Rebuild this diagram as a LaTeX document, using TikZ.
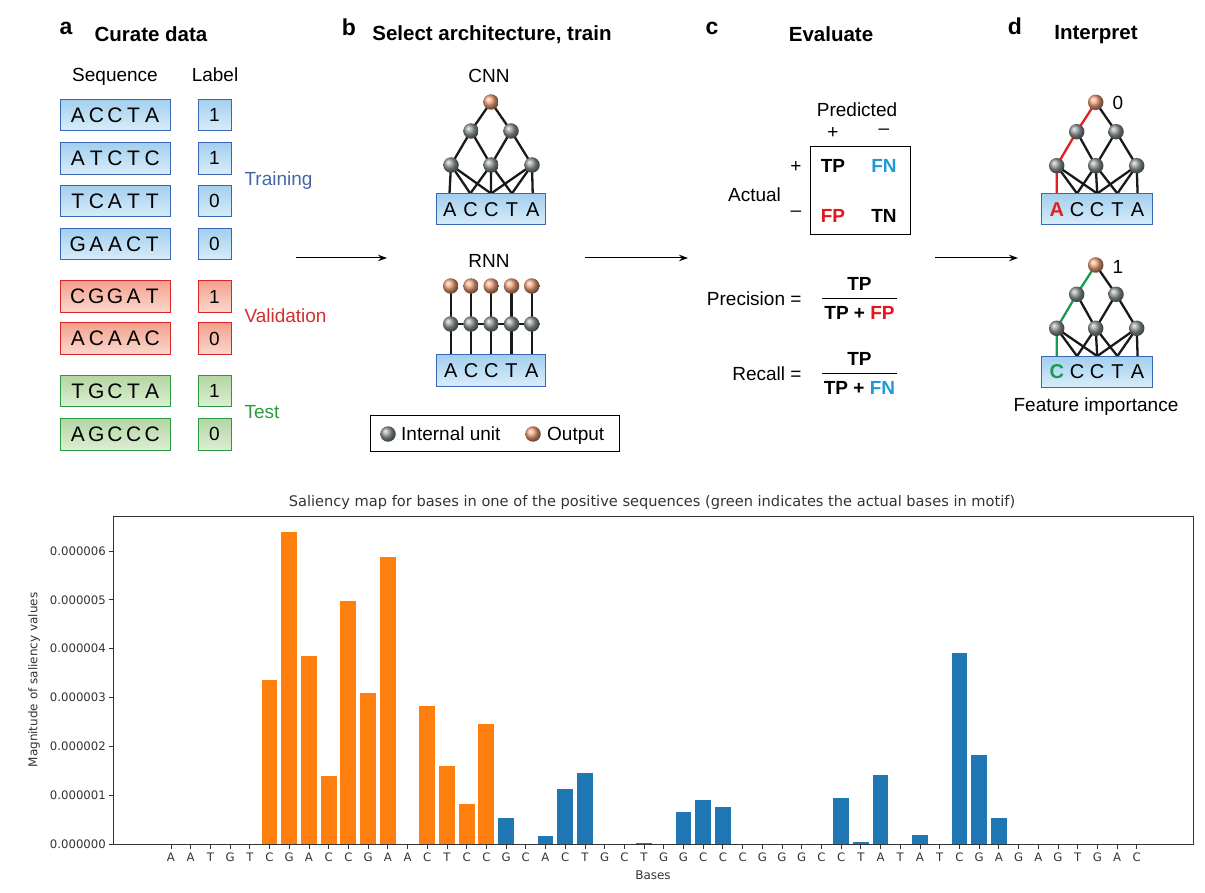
\documentclass[tikz,border=0pt]{standalone}
\usepackage{fontspec}
\setmainfont{Liberation Sans}
\newfontfamily\dv{DejaVu Sans}
\usetikzlibrary{arrows.meta,backgrounds}
\definecolor{bluetop}{HTML}{A3CFEE}
\definecolor{bluebot}{HTML}{D8EDFA}
\definecolor{bluedraw}{HTML}{3B66B5}
\definecolor{redtop}{HTML}{F3A18E}
\definecolor{redbot}{HTML}{FBD8CC}
\definecolor{reddraw}{HTML}{D9252A}
\definecolor{greentop}{HTML}{B2D6A2}
\definecolor{greenbot}{HTML}{DDEED3}
\definecolor{greendraw}{HTML}{2C9A43}
\definecolor{traincol}{HTML}{4666A8}
\definecolor{valcol}{HTML}{D32F2F}
\definecolor{testcol}{HTML}{2E9B3E}
\definecolor{fncol}{HTML}{1E9BD7}
\definecolor{fpcol}{HTML}{E8141C}
\definecolor{unitgray}{HTML}{8E9696}
\definecolor{outorange}{HTML}{EEA078}
\definecolor{pathred}{HTML}{E02020}
\definecolor{pathgreen}{HTML}{1A9A50}
\definecolor{mplorange}{HTML}{FF7F0E}
\definecolor{mplblue}{HTML}{1F77B4}
\definecolor{axgray}{HTML}{333333}
\newcommand\fiveletters[6]{\makebox[#1]{#2}\makebox[#1]{#3}\makebox[#1]{#4}\makebox[#1]{#5}\makebox[#1]{#6}}
\newcommand\seqfive[5]{\fiveletters{18.6pt}{#1}{#2}{#3}{#4}{#5}}
\tikzset{
  body/.style={font=\fontsize{19}{21}\selectfont},
  head/.style={font=\fontsize{20.5}{22}\selectfont\bfseries, anchor=base},
  panel/.style={font=\fontsize{23}{24}\selectfont\bfseries, anchor=base},
  unit/.style={circle, minimum size=15.5pt, inner sep=0pt, shading=ball, ball color=unitgray},
  outunit/.style={circle, minimum size=15.5pt, inner sep=0pt, shading=ball, ball color=outorange},
  seqbox/.style={draw, minimum width=110pt, minimum height=31.5pt, inner sep=0pt, line width=0.9pt, font=\fontsize{21}{21}\selectfont},
  lblbox/.style={draw, minimum width=33pt, minimum height=31.5pt, inner sep=0pt, line width=0.9pt, font=\fontsize{19}{19}\selectfont},
  bluefill/.style={draw=bluedraw, top color=bluetop, bottom color=bluebot},
  redfill/.style={draw=reddraw, top color=redtop, bottom color=redbot},
  greenfill/.style={draw=greendraw, top color=greentop, bottom color=greenbot},
  netbox/.style={seqbox, bluefill, font=\fontsize{20}{20}\selectfont},
  edge/.style={line width=2.3pt, black!90},
  flow/.style={line width=1pt, -{Stealth[length=9pt,width=6.5pt]}},
  tick/.style={line width=0.8pt, axgray},
  ticklbl/.style={font=\dv\fontsize{11.7}{12}\selectfont, text=axgray, inner sep=0pt},
}
\begin{document}
\begin{tikzpicture}[x=1pt,y=-1pt]
\useasboundingbox (0,0) rectangle (1205,893);

% ---------- panel a ----------
\node[panel] (pa) at (66,35) {a};
\node[head] (ha) at (151,42) {Curate data};
\node[body, anchor=base] (hseq) at (115,82) {Sequence};
\node[body, anchor=base] (hlab) at (215,82) {Label};
\foreach \y/\s/\l/\f [count=\k] in {
  115/{{A}{C}{C}{T}{A}}/1/bluefill,
  158.3/{{A}{T}{C}{T}{C}}/1/bluefill,
  201/{{T}{C}{A}{T}{T}}/0/bluefill,
  244.2/{{G}{A}{A}{C}{T}}/0/bluefill,
  296.5/{{C}{G}{G}{A}{T}}/1/redfill,
  338.5/{{A}{C}{A}{A}{C}}/0/redfill,
  391/{{T}{G}{C}{T}{A}}/1/greenfill,
  434.2/{{A}{G}{C}{C}{C}}/0/greenfill}{
  \node[seqbox, \f] (seq\k) at (115,\y) {\expandafter\seqfive\s};
  \node[lblbox, \f] (lab\k) at (214.5,\y) {\l};
}
\node[body, anchor=west, text=traincol] (ltrain) at (241,181) {Training};
\node[body, anchor=west, text=valcol] (lval) at (241,315.5) {Validation};
\node[body, anchor=west, text=testcol] (ltest) at (241,412) {Test};

% ---------- panel b ----------
\node[panel] (pb) at (349,36) {b};
\node[head] (hb) at (492,41) {Select architecture, train};
\node[body] (lcnn) at (489,76) {CNN};
\node[outunit] (bo) at (491,102) {};
\node[unit] (b21) at (471,131) {};
\node[unit] (b22) at (511,131) {};
\node[unit] (b31) at (451,165) {};
\node[unit] (b32) at (491,165) {};
\node[unit] (b33) at (532,165) {};
\node[netbox, minimum width=109pt] (bbox) at (491.3,209.2) {\fiveletters{20.8pt}ACCTA};
\foreach \i/\x in {1/449.5,2/470.3,3/491.1,4/511.9,5/532.7} \coordinate (bi\i) at (\x,193.5);

\node[body] (lrnn) at (489,261) {RNN};
\foreach \i/\x in {1/450.7,2/471,3/491.2,4/511.5,5/531.7}{
  \node[outunit] (ro\i) at (\x,286) {};
  \node[unit] (rh\i) at (\x,324) {};
  \coordinate (ri\i) at (\x,354.5);
}
\node[netbox, minimum width=109pt] (rbox) at (491.3,370.3) {\fiveletters{20.3pt}ACCTA};

\node[draw, line width=0.9pt, minimum width=249pt, minimum height=36.5pt, inner sep=0pt] (legend) at (494.5,433.3) {};
\node[unit] (lgu) at (388,434) {};
\node[body, anchor=base west, inner sep=0pt] (lgut) at (401,440.5) {Internal unit};
\node[outunit] (lgo) at (533,434) {};
\node[body, anchor=base west, inner sep=0pt] (lgot) at (547,440.5) {Output};

% ---------- panel c ----------
\node[panel] (pc) at (712,35) {c};
\node[head] (hc) at (831,42) {Evaluate};
\node[body] (pred) at (857,110) {Predicted};
\node[body] (pp) at (833,133) {+};
\node[body] (pm) at (884,132) {\textendash};
\node[draw, line width=0.9pt, minimum width=99.3pt, minimum height=88.3pt, inner sep=0pt] (cm) at (860.3,190.8) {};
\node[body, font=\fontsize{19}{21}\selectfont\bfseries] (tp) at (833,166) {TP};
\node[body, font=\fontsize{19}{21}\selectfont\bfseries, text=fncol] (fn) at (884,166) {FN};
\node[body, font=\fontsize{19}{21}\selectfont\bfseries, text=fpcol] (fp) at (833,215.5) {FP};
\node[body, font=\fontsize{19}{21}\selectfont\bfseries] (tn) at (884,215.5) {TN};
\node[body] (ap) at (796,167) {+};
\node[body] (am) at (796,214) {\textendash};
\node[body] (actual) at (754.5,195) {Actual};

\node[body, anchor=east] (prec) at (805,298.5) {Precision =};
\node[body, font=\fontsize{19}{21}\selectfont\bfseries] (pnum) at (859.5,284) {TP};
\coordinate (pl) at (822,298.5); \coordinate (pr) at (897,298.5);
\draw[line width=0.9pt] (pl) -- (pr);
\node[body, font=\fontsize{19}{21}\selectfont\bfseries] (pden) at (859.5,313) {TP + \textcolor{fpcol}{FP}};

\node[body, anchor=east] (rec) at (805,373.5) {Recall =};
\node[body, font=\fontsize{19}{21}\selectfont\bfseries] (rnum) at (859.5,359) {TP};
\coordinate (rl) at (822,373.5); \coordinate (rr) at (897,373.5);
\draw[line width=0.9pt] (rl) -- (rr);
\node[body, font=\fontsize{19}{21}\selectfont\bfseries] (rden) at (859.5,388) {TP + \textcolor{fncol}{FN}};

% ---------- panel d ----------
\node[panel] (pd) at (1015,35) {d};
\node[head] (hd) at (1096,40) {Interpret};
% top network
\node[outunit] (do) at (1095.7,102.3) {};
\node[body] (d0) at (1118,103) {0};
\node[unit] (d21) at (1076.7,131.7) {};
\node[unit] (d22) at (1116,131.7) {};
\node[unit] (d31) at (1056.7,165.7) {};
\node[unit] (d32) at (1095.7,165.7) {};
\node[unit] (d33) at (1136.7,165.7) {};
\node[netbox, minimum width=111pt] (dbox) at (1097.2,209.2) {\fiveletters{20.2pt}{\textcolor{pathred}{\bfseries A}}CCTA};
\foreach \i/\x in {1/1056.8,2/1077,3/1097.2,4/1117.4,5/1137.6} \coordinate (di\i) at (\x,193.5);
% bottom network
\node[outunit] (eo) at (1095.7,265) {};
\node[body] (e1) at (1118,267) {1};
\node[unit] (e21) at (1076.7,294.3) {};
\node[unit] (e22) at (1116,294.3) {};
\node[unit] (e31) at (1056.7,328.3) {};
\node[unit] (e32) at (1095.7,328.3) {};
\node[unit] (e33) at (1136.7,328.3) {};
\node[netbox, minimum width=111pt] (ebox) at (1097.2,371.8) {\fiveletters{20.2pt}{\textcolor{pathgreen}{\bfseries C}}CCTA};
\foreach \i/\x in {1/1056.8,2/1077,3/1097.2,4/1117.4,5/1137.6} \coordinate (ei\i) at (\x,356.1);
\node[body] (fimp) at (1096,407) {Feature importance};

% ---------- flow arrows ----------
\coordinate (a1s) at (296,258); \coordinate (a1e) at (387,258);
\coordinate (a2s) at (585,258); \coordinate (a2e) at (688,258);
\coordinate (a3s) at (935,258); \coordinate (a3e) at (1018,258);
\draw[flow] (a1s) -- (a1e);
\draw[flow] (a2s) -- (a2e);
\draw[flow] (a3s) -- (a3e);

% ---------- edges (behind) ----------
\begin{scope}[on background layer]
  % CNN b
  \draw[edge] (bo.center) -- (b21.center) (bo.center) -- (b22.center);
  \draw[edge] (b21.center) -- (b31.center) (b21.center) -- (b32.center);
  \draw[edge] (b22.center) -- (b32.center) (b22.center) -- (b33.center);
  \foreach \j in {1,2,3} \draw[edge] (b31.center) -- (bi\j);
  \foreach \j in {2,3,4} \draw[edge] (b32.center) -- (bi\j);
  \foreach \j in {3,4,5} \draw[edge] (b33.center) -- (bi\j);
  % RNN
  \foreach \i in {1,...,5} \draw[edge] (ro\i.center) -- (rh\i.center) (rh\i.center) -- (ri\i);
  \draw[edge] (rh1.center) -- (rh2.center) -- (rh3.center) -- (rh4.center) -- (rh5.center);
  % d top
  \draw[edge] (do.center) -- (d22.center);
  \draw[edge] (d21.center) -- (d32.center);
  \draw[edge] (d22.center) -- (d32.center) (d22.center) -- (d33.center);
  \foreach \j in {2,3} \draw[edge] (d31.center) -- (di\j);
  \foreach \j in {2,3,4} \draw[edge] (d32.center) -- (di\j);
  \foreach \j in {3,4,5} \draw[edge] (d33.center) -- (di\j);
  \draw[edge, pathred] (do.center) -- (d21.center) -- (d31.center) -- (di1);
  % d bottom
  \draw[edge] (eo.center) -- (e22.center);
  \draw[edge] (e21.center) -- (e32.center);
  \draw[edge] (e22.center) -- (e32.center) (e22.center) -- (e33.center);
  \foreach \j in {2,3} \draw[edge] (e31.center) -- (ei\j);
  \foreach \j in {2,3,4} \draw[edge] (e32.center) -- (ei\j);
  \foreach \j in {3,4,5} \draw[edge] (e33.center) -- (ei\j);
  \draw[edge, pathgreen] (eo.center) -- (e21.center) -- (e31.center) -- (ei1);
\end{scope}

% ---------- saliency chart ----------
\node[font=\dv\fontsize{14.6}{15}\selectfont, text=axgray] (ctitle) at (652,502) {Saliency map for bases in one of the positive sequences (green indicates the actual bases in motif)};
\foreach \i/\v in {5/3.36,6/6.39,7/3.86,8/1.39,9/4.97,10/3.09,11/5.88,13/2.82,14/1.61,15/0.82,16/2.47}
  \fill[mplorange] ({171+\i*19.71-7.9},844.3) rectangle ({171+\i*19.71+7.9},{844.3-\v*48.9});
\foreach \i/\v in {17/0.545,19/0.18,20/1.14,21/1.46,24/0.03,26/0.67,27/0.91,28/0.77,34/0.94,35/0.05,36/1.41,38/0.19,40/3.91,41/1.83,42/0.54}
  \fill[mplblue] ({171+\i*19.71-7.9},844.3) rectangle ({171+\i*19.71+7.9},{844.3-\v*48.9});
\node[draw=axgray, line width=0.9pt, minimum width=1080pt, minimum height=328.3pt, inner sep=0pt] (frame) at (653,680.15) {};
\foreach \k in {0,...,6}{
  \coordinate (yt\k) at (113,{844.3-\k*48.9});
  \draw[tick] (yt\k) -- ++(-4.5,0);
  \node[ticklbl, anchor=east] (ytl\k) at (106,{844.3-\k*48.9}) {0.00000\k};
}
\foreach \b [count=\i from 0] in {A,A,T,G,T,C,G,A,C,C,G,A,A,C,T,C,C,G,C,A,C,T,G,C,T,G,G,C,C,C,G,G,G,C,C,T,A,T,A,T,C,G,A,G,A,G,T,G,A,C}{
  \coordinate (xt\i) at ({171+\i*19.71},844.3);
  \draw[tick] (xt\i) -- ++(0,4.5);
  \node[ticklbl] (xtl\i) at ({171+\i*19.71},857.5) {\b};
}
\node[ticklbl, font=\dv\fontsize{12}{12}\selectfont] (xlab) at (653,875) {Bases};
\node[ticklbl, font=\dv\fontsize{12}{12}\selectfont, rotate=90] (ylab) at (34,680) {Magnitude of saliency values};
\end{tikzpicture}
\end{document}
